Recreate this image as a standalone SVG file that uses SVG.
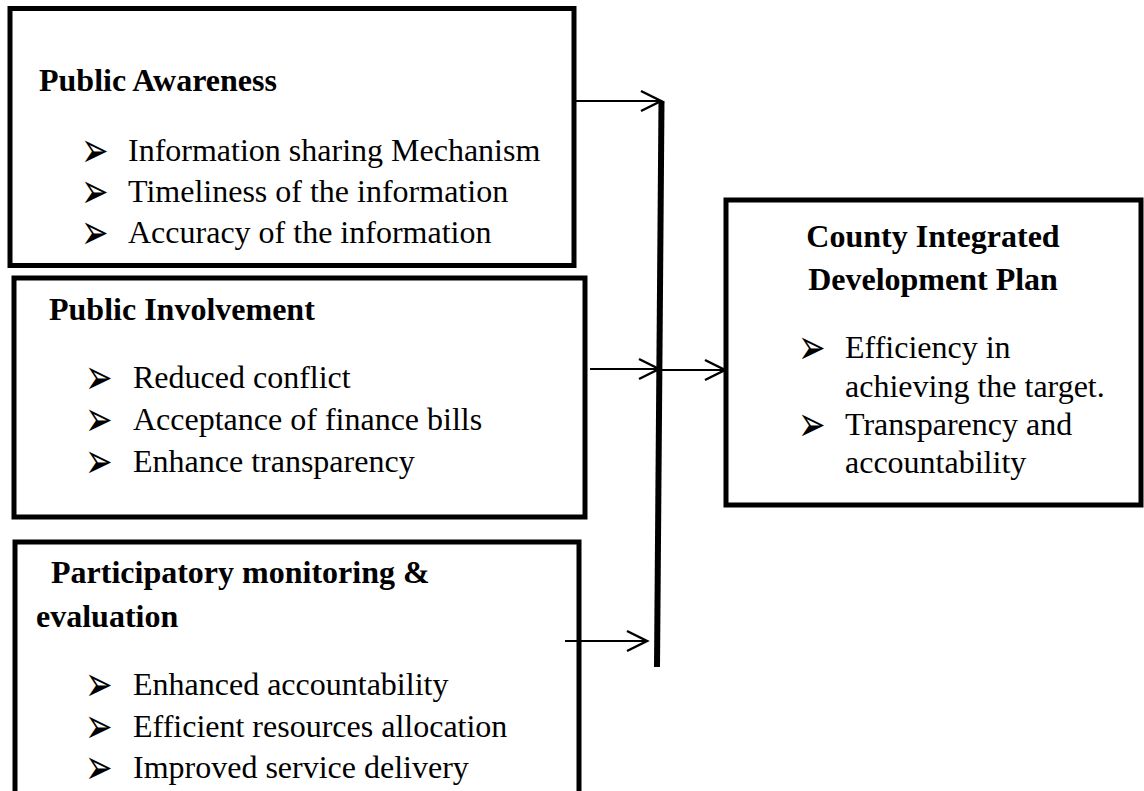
<svg xmlns="http://www.w3.org/2000/svg" width="1144" height="791" viewBox="0 0 1144 791">
<style>
.box{fill:#fff;stroke:#000;stroke-width:5}
.h{font-family:"Liberation Serif","Times New Roman",serif;font-weight:bold;font-size:32px;fill:#000}
.t{font-family:"Liberation Serif","Times New Roman",serif;font-size:32px;fill:#000}
.b{font-family:"DejaVu Sans",sans-serif;font-size:33px;fill:#000}
.c{stroke:#000;stroke-width:2;fill:none}
.v{stroke:#000;stroke-width:6;fill:none}
</style>
<defs>
<marker id="ah" markerWidth="24" markerHeight="24" refX="21" refY="12" orient="auto" markerUnits="userSpaceOnUse">
<path d="M1,2 L21,12 L1,22" fill="none" stroke="#000" stroke-width="2.5"/>
</marker>
</defs>
<rect width="1144" height="791" fill="#fff"/>
<g id="awareness">
<rect class="box" x="10" y="8.5" width="564" height="257"/>
<text class="h" x="39" y="91">Public Awareness</text>
<text class="b" transform="translate(81,167) scale(1,1.5)">➢</text><text class="t" x="128" y="161">Information sharing Mechanism</text>
<text class="b" transform="translate(81,208) scale(1,1.5)">➢</text><text class="t" x="128" y="202">Timeliness of the information</text>
<text class="b" transform="translate(81,249) scale(1,1.5)">➢</text><text class="t" x="128" y="243">Accuracy of the information</text>
</g>
<g id="involvement">
<rect class="box" x="14" y="278" width="571" height="239"/>
<text class="h" x="49" y="320">Public Involvement</text>
<text class="b" transform="translate(85,394) scale(1,1.5)">➢</text><text class="t" x="133" y="388">Reduced conflict</text>
<text class="b" transform="translate(85,436) scale(1,1.5)">➢</text><text class="t" x="133" y="430">Acceptance of finance bills</text>
<text class="b" transform="translate(85,478) scale(1,1.5)">➢</text><text class="t" x="133" y="472">Enhance transparency</text>
</g>
<g id="monitoring">
<rect class="box" x="15" y="542" width="564" height="270"/>
<text class="h" x="51" y="583">Participatory monitoring &amp;</text>
<text class="h" x="36" y="627">evaluation</text>
<text class="b" transform="translate(85,701) scale(1,1.5)">➢</text><text class="t" x="133" y="695">Enhanced accountability</text>
<text class="b" transform="translate(85,743) scale(1,1.5)">➢</text><text class="t" x="133" y="737">Efficient resources allocation</text>
<text class="b" transform="translate(85,784) scale(1,1.5)">➢</text><text class="t" x="133" y="778">Improved service delivery</text>
</g>
<g id="cidp">
<rect class="box" x="726" y="200" width="415" height="305"/>
<text class="h" x="933" y="247" text-anchor="middle">County Integrated</text>
<text class="h" x="933" y="290" text-anchor="middle">Development Plan</text>
<text class="b" transform="translate(798,364) scale(1,1.5)">➢</text><text class="t" x="845" y="358">Efficiency in</text>
<text class="t" x="845" y="397">achieving the target.</text>
<text class="b" transform="translate(798,441) scale(1,1.5)">➢</text><text class="t" x="845" y="435">Transparency and</text>
<text class="t" x="845" y="473">accountability</text>
</g>
<g id="connectors">
<line class="v" x1="661.5" y1="101" x2="657" y2="667"/>
<line class="c" x1="574" y1="101" x2="661" y2="101" marker-end="url(#ah)"/>
<line class="c" x1="590" y1="369" x2="659" y2="369" marker-end="url(#ah)"/>
<line class="c" x1="659" y1="370" x2="725" y2="370" marker-end="url(#ah)"/>
<line class="c" x1="565" y1="641" x2="647" y2="641" marker-end="url(#ah)"/>
</g>
</svg>
